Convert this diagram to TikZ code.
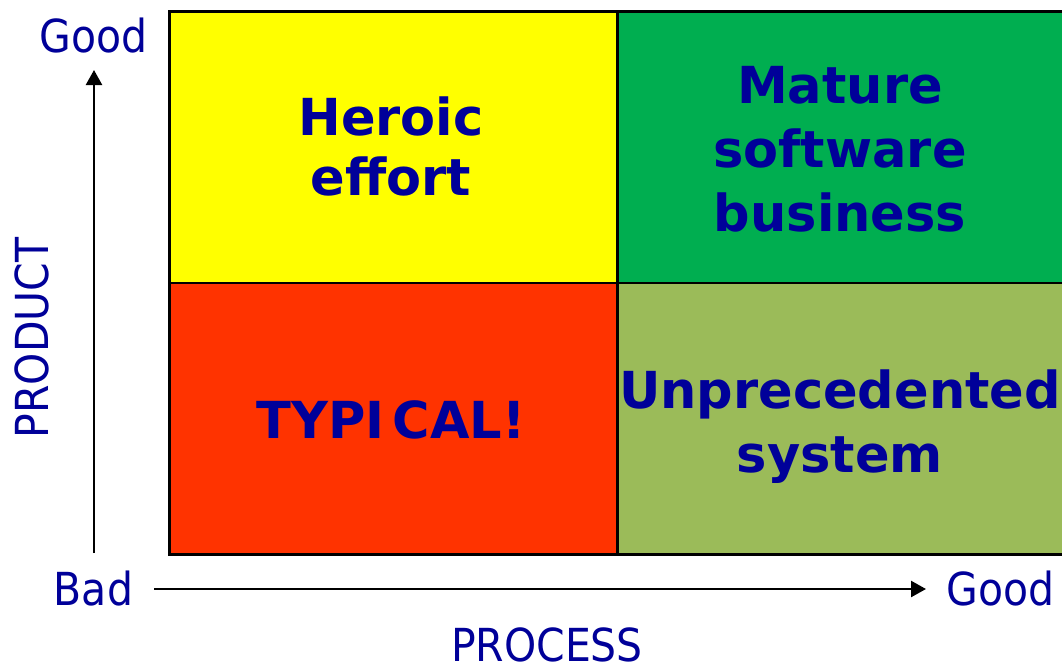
\documentclass[tikz,border=0pt]{standalone}
\usepackage{fontspec}
\setmainfont{DejaVu Sans}
\newfontfamily\labelfont{DejaVu Sans Condensed}
\usetikzlibrary{arrows.meta}
\definecolor{txtblue}{RGB}{0,0,153}
\definecolor{cyellow}{RGB}{255,255,0}
\definecolor{cgreen}{RGB}{0,174,80}
\definecolor{cred}{RGB}{255,51,0}
\definecolor{colive}{RGB}{155,187,89}
\tikzset{
  cell/.style={draw=black, line width=2.5pt, minimum width=448pt, minimum height=271.5pt, inner sep=0pt, anchor=north west},
  celltext/.style={text=txtblue, font=\fontsize{51}{64}\selectfont\bfseries, align=center, inner sep=0pt, anchor=base},
  axlabel/.style={text=txtblue, font=\labelfont\fontsize{45.5}{54}\selectfont, inner sep=0pt, anchor=base},
  axis/.style={line width=2.4pt, -{Triangle[length=15pt,width=16pt]}}
}
\begin{document}
\begin{tikzpicture}[x=1pt,y=-1pt]
\useasboundingbox (0,0) rectangle (1062,667);
\fill[white] (0,0) rectangle (1062,667);
% cells
\node[cell, fill=cyellow] (hero) at (168,10) {};
\node[cell, fill=cgreen] (mature) at (616,10) {};
\node[cell, fill=cred] (typ) at (168,281.5) {};
\node[cell, fill=colive] (unpre) at (616,281.5) {};
% cell texts (anchor = baseline of the last line)
\node[celltext, font=\fontsize{51}{60}\selectfont\bfseries] (heroT) at (391,195) {Heroic\\effort};
\node[celltext] (matureT) at (840,231) {Mature\\software\\business};
\node[celltext] (typT) at (391,438) {TYPI\kern8pt CAL!};
\node[celltext] (unpreT) at (840,472) {Unprecedented\\system};
% axes
\coordinate (yStart) at (94,553);
\coordinate (yEnd) at (94,70);
\coordinate (xStart) at (154,589);
\coordinate (xEnd) at (926,589);
\draw[axis] (yStart) -- (yEnd);
\draw[axis] (xStart) -- (xEnd);
% labels
\node[axlabel] (goodY) at (93.5,52) {Good};
\node[axlabel] (badX) at (93.5,605) {Bad};
\node[axlabel] (goodX) at (1000.5,605) {Good};
\node[axlabel] (process) at (547,661) {PROCESS};
\node[axlabel, rotate=90] (product) at (48,338) {PRODUCT};
\end{tikzpicture}
\end{document}
